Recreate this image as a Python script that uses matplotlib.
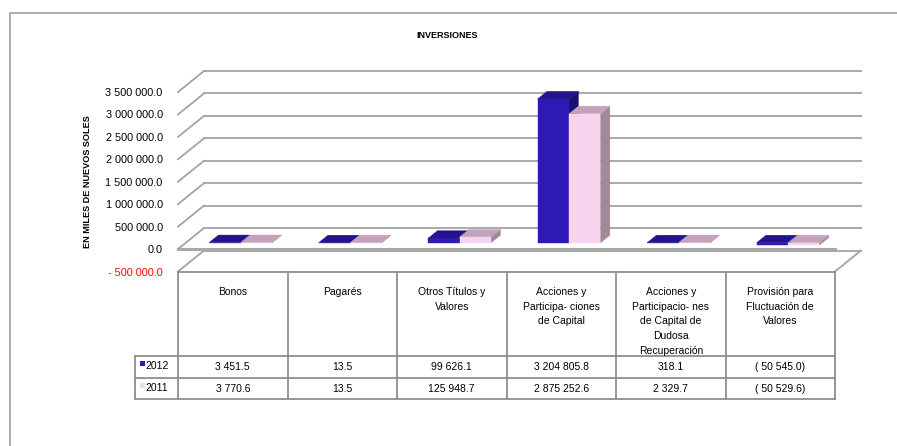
import numpy as np
import matplotlib
matplotlib.use("Agg")
import matplotlib.pyplot as plt
from matplotlib.patches import Polygon
from matplotlib.lines import Line2D

plt.rcParams['font.family'] = ['Liberation Sans', 'DejaVu Sans']

# data (miles de nuevos soles)
categories = [
    "Bonos",
    "Pagarés",
    "Otros Títulos y\nValores",
    "Acciones y\nParticipa- ciones\nde Capital",
    "Acciones y\nParticipacio- nes\nde Capital de\nDudosa\nRecuperación",
    "Provisión para\nFluctuación de\nValores",
]
series_names = ["2012", "2011"]
values_2012 = [3451.5, 13.5, 99626.1, 3204805.8, 318.1, -50545.0]
values_2011 = [3770.6, 13.5, 125948.7, 2875252.6, 2329.7, -50529.6]
y_ticks = [-500000, 0, 500000, 1000000, 1500000, 2000000, 2500000, 3000000, 3500000]

# face colours: front, top, side
colors = {
    "2012": ("#2D1AB5", "#23138C", "#1C0F6E"),
    "2011": ("#F9D4F1", "#C3A2BC", "#A3879B"),
}
grid_col = "#A3A3A3"
line_col = "#8F8F8F"


def fmt(v):
    s = f"{abs(v):,.1f}".replace(",", " ")
    return f"( {s})" if v < 0 else s


def ytick_fmt(v):
    if v == 0:
        return "0.0"
    s = f"{abs(v):,.1f}".replace(",", " ")
    return f"- {s}" if v < 0 else s


W, H = 897, 446
fig = plt.figure(figsize=(W / 100, H / 100), dpi=100)

# front plane of the pseudo-3D box, in pixels
px_l, px_r, px_top, px_bot = 178, 835, 92, 271.5
ax = fig.add_axes([px_l / W, (H - px_bot) / H, (px_r - px_l) / W, (px_bot - px_top) / H])
n = len(categories)
ymin, ymax = y_ticks[0], y_ticks[-1]
ax.set_xlim(0, n)
ax.set_ylim(ymin, ymax)
for s in ax.spines.values():
    s.set_visible(False)
ax.set_xticks([])
ax.set_yticks(y_ticks)
ax.set_yticklabels([ytick_fmt(v) for v in y_ticks], fontsize=7.8)
ax.tick_params(axis='y', length=0, pad=11)
for lab, v in zip(ax.get_yticklabels(), y_ticks):
    if v < 0:
        lab.set_color("red")

# depth vector in data units
px_per_cat = (px_r - px_l) / n
px_per_val = (px_bot - px_top) / (ymax - ymin)
dx = 26 / px_per_cat
dy = 21 / px_per_val

# walls: back horizontal gridlines and left-side diagonals
for v in y_ticks:
    ax.plot([dx, n + dx], [v + dy, v + dy], color=grid_col, lw=1.3, clip_on=False, zorder=1)
    ax.plot([0, dx], [v, v + dy], color=grid_col, lw=1.3, clip_on=False, zorder=1)
# right bottom diagonal and the zero line in front
ax.plot([n, n + dx], [ymin, ymin + dy], color=grid_col, lw=1.3, clip_on=False, zorder=1)
ax.plot([0, n], [0, 0], color="#A8A8A8", lw=2.2, clip_on=False, zorder=2)

# bars
bw = 0.287
f0, f1 = 0.30, 0.66
for i in range(n):
    for s, (name, vals) in enumerate(zip(series_names, [values_2012, values_2011])):
        v = vals[i]
        lo, hi = min(0, v), max(0, v)
        xl = i + 0.5 - bw + s * bw
        xr = xl + bw
        fc, tc, sc = colors[name]
        a0x, a0y = f0 * dx, f0 * dy
        a1x, a1y = f1 * dx, f1 * dy
        side = [(xr + a0x, lo + a0y), (xr + a0x, hi + a0y), (xr + a1x, hi + a1y), (xr + a1x, lo + a1y)]
        top = [(xl + a0x, hi + a0y), (xr + a0x, hi + a0y), (xr + a1x, hi + a1y), (xl + a1x, hi + a1y)]
        front = [(xl + a0x, lo + a0y), (xr + a0x, lo + a0y), (xr + a0x, hi + a0y), (xl + a0x, hi + a0y)]
        for pts, c in [(side, sc), (top, tc), (front, fc)]:
            ax.add_patch(Polygon(pts, closed=True, facecolor=c, edgecolor=c, lw=0.3,
                                 clip_on=False, zorder=3 + s))

# data table below the plot (y in pixels from its top edge)
tb_top, tb_bot = 271.5, 399
tax = fig.add_axes([px_l / W, (H - tb_bot) / H, (px_r - px_l) / W, (tb_bot - tb_top) / H])
tax.set_xlim(0, n)
tax.set_ylim(tb_bot - tb_top, 0)
tax.axis("off")
hdr, r1, r2 = 84, 106, 127.5
lab_x = -43 / px_per_cat
for k in range(n + 1):
    tax.plot([k, k], [0, r2], color=line_col, lw=1.3, clip_on=False)
tax.plot([lab_x, lab_x], [hdr, r2], color=line_col, lw=1.3, clip_on=False)
tax.plot([0, n], [0, 0], color=line_col, lw=1.3, clip_on=False)
for yy in [hdr, r1, r2]:
    tax.plot([lab_x, n], [yy, yy], color=line_col, lw=1.3, clip_on=False)

for i, cat in enumerate(categories):
    tax.text(i + 0.5, 15.5, cat, ha="center", va="top", fontsize=7.5, linespacing=1.58)

for r, (name, vals) in enumerate(zip(series_names, [values_2012, values_2011])):
    yc = (hdr + r1) / 2 if r == 0 else (r1 + r2) / 2
    tax.add_patch(plt.Rectangle((lab_x + 0.045, yc - 5.5), 0.045, 5, facecolor=colors[name][0],
                                edgecolor="none", clip_on=False))
    tax.text(lab_x + 0.095, yc - 0.5, name, ha="left", va="center", fontsize=7.5)
    for i, v in enumerate(vals):
        tax.text(i + 0.5, yc + 0.5, fmt(v), ha="center", va="center", fontsize=7.5)

# titles
fig.text(447 / W, 1 - 36 / H, "INVERSIONES", ha="center", va="center", fontsize=6.5, fontweight="bold")
fig.text(87 / W, 1 - 182 / H, "EN MILES DE NUEVOS SOLES", ha="center", va="center", rotation=90,
         fontsize=6.6, fontweight="bold")

# outer frame of the chart area
fig.add_artist(Line2D([10 / W, 10 / W, 1], [0, 1 - 13 / H, 1 - 13 / H], transform=fig.transFigure,
                      color="#A0A0A0", lw=1.2))

fig.savefig("out.png", dpi=100)
